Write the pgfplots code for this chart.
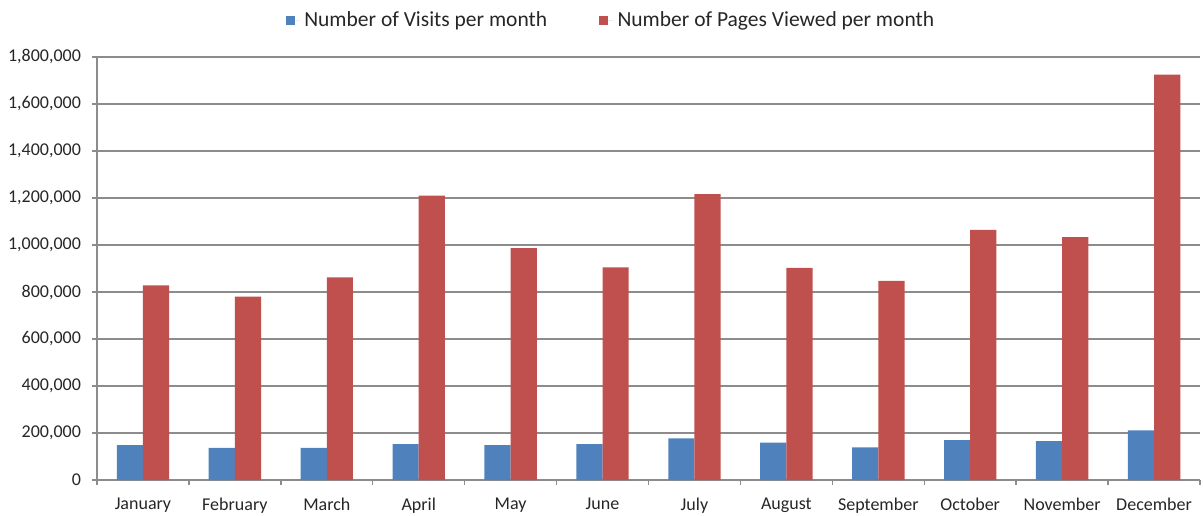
\documentclass[border=0pt]{standalone}
\usepackage{pgfplots}
\pgfplotsset{compat=1.18}
\usepackage{fontspec}
\setmainfont{Carlito}
\definecolor{xlblue}{HTML}{4F81BD}
\definecolor{xlred}{HTML}{C0504D}
\definecolor{gridgray}{HTML}{8C8C8C}
\definecolor{txt}{HTML}{262626}
\begin{document}
\begin{tikzpicture}
\path[use as bounding box] (0,0) rectangle (601.5pt,257.5pt);
\begin{axis}[
  at={(48.5pt,17.5pt)}, anchor=south west,
  scale only axis, width=551.5pt, height=211.5pt,
  ybar=0pt, bar width=0.285,
  xmin=0.5, xmax=12.5,
  ymin=0, ymax=1800000,
  xtick={1,...,12},
  xticklabels={January,February,March,April,May,June,July,August,September,October,November,December},
  minor xtick={0.5,1.5,...,12.5},
  ytick={0,200000,...,1800000},
  scaled y ticks=false,
  /pgf/number format/.cd, fixed, 1000 sep={,}, assume math mode=true,
  /pgfplots/.cd,
  ymajorgrids, grid style={gridgray, line width=0.7pt},
  axis x line*=bottom, axis y line*=left,
  axis line style={gridgray, line width=0.7pt},
  tick align=outside,
  major tick length=2.5pt, minor tick length=2.5pt,
  xtick style={draw=none},
  minor x tick style={draw=gridgray, line width=0.7pt},
  ytick style={gridgray, line width=0.7pt},
  ticklabel style={font=\fontsize{9}{10}\selectfont, text=txt},
  yticklabel style={xshift=-2pt},
  xticklabel style={yshift=-3pt},
  legend columns=2,
  legend style={draw=none, fill=none, at={(0.4669,1.087)}, anchor=center,
    font=\fontsize{10.75}{12}\selectfont, text=txt,
    /tikz/every even column/.append style={column sep=24pt}},
  legend image code/.code={\fill[#1] (0pt,-2.2pt) rectangle (4.4pt,2.2pt);\path (0pt,0pt) -- (7.2pt,0pt);},
]
\addplot[fill=xlblue, draw=none] coordinates {
(1,148000) (2,137000) (3,137000) (4,153000) (5,148000) (6,153000)
(7,177000) (8,159000) (9,139000) (10,170000) (11,165000) (12,211000)};
\addplot[fill=xlred, draw=none] coordinates {
(1,828000) (2,780000) (3,862000) (4,1210000) (5,987000) (6,905000)
(7,1216000) (8,903000) (9,847000) (10,1064000) (11,1034000) (12,1725000)};
\legend{Number of Visits per month, Number of Pages Viewed per month}
\end{axis}
\end{tikzpicture}
\end{document}
